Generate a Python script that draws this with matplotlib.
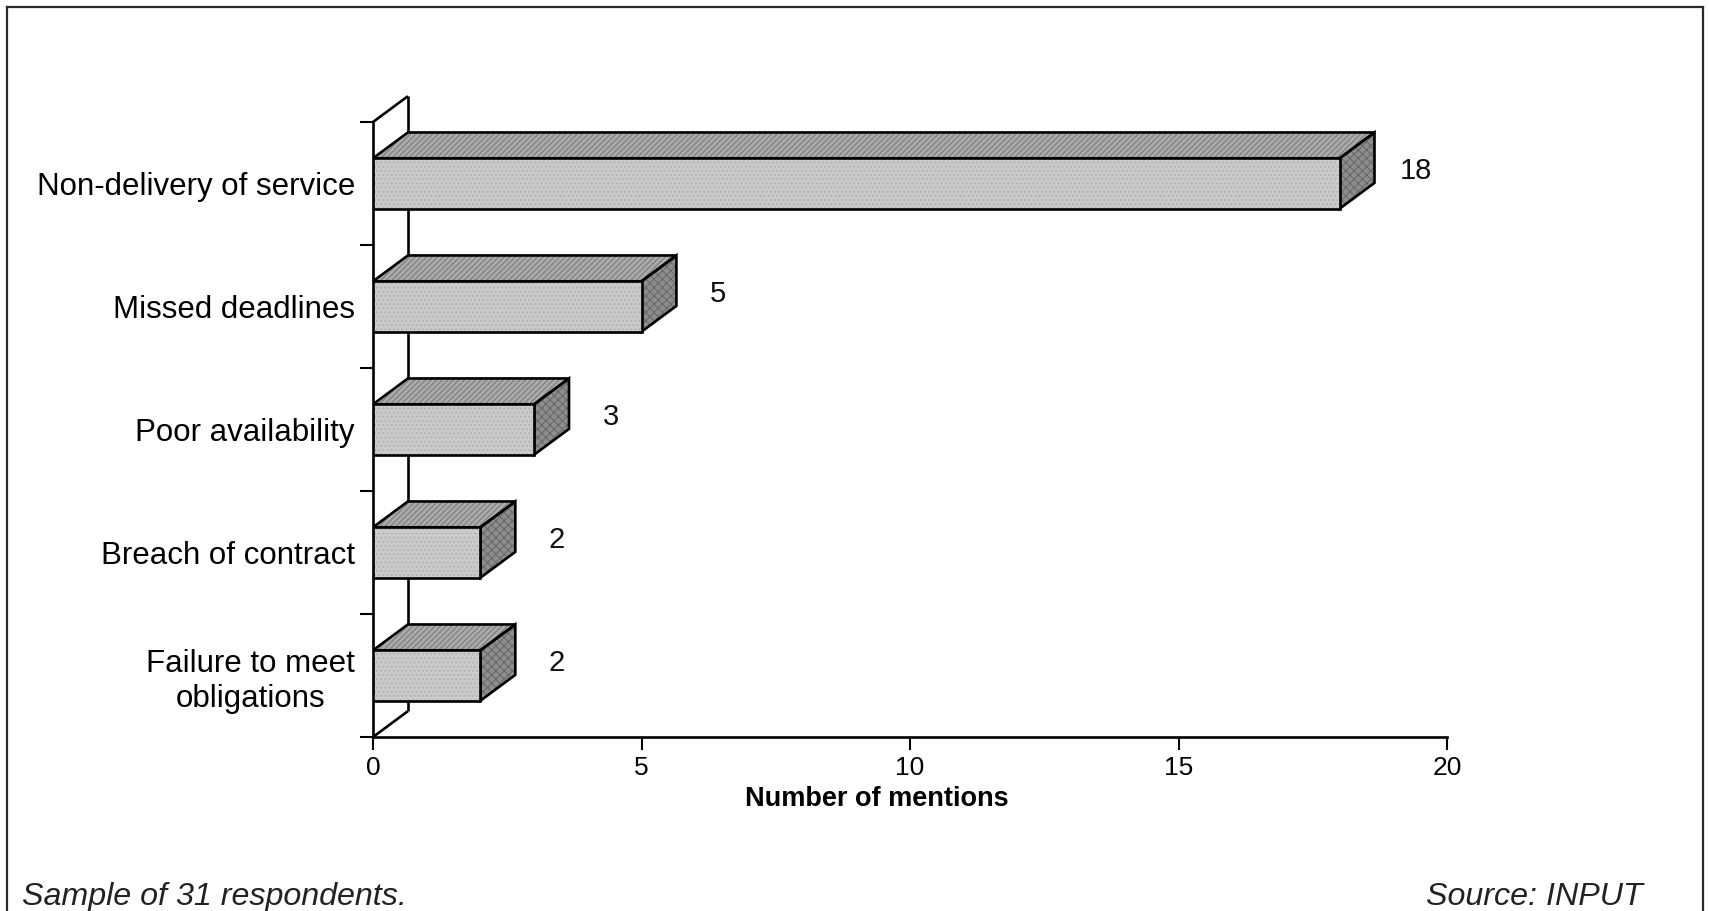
import matplotlib
matplotlib.use("Agg")
import matplotlib.pyplot as plt
from matplotlib.patches import Polygon
from matplotlib.lines import Line2D

plt.rcParams['font.family'] = ['Liberation Sans', 'DejaVu Sans']
plt.rcParams['hatch.linewidth'] = 0.8

# Data
categories = ["Non-delivery of service", "Missed deadlines", "Poor availability",
              "Breach of contract", "Failure to meet\nobligations"]
mentions = [18, 5, 3, 2, 2]
x_ticks = [0, 5, 10, 15, 20]
x_label = "Number of mentions"
note_left = "Sample of 31 respondents."
note_right = "Source: INPUT"

W, H = 1709, 911
fig = plt.figure(figsize=(W / 100, H / 100), dpi=100, facecolor="white")
ax = fig.add_axes([373 / W, (H - 737) / H, 1074 / W, 615 / H])

n = len(categories)
ax.set_xlim(0, 20)
ax.set_ylim(-0.5, n - 0.5)

# 3-D depth offsets in data units
DX = 0.65
DY = 0.21
HALF = 0.205

edge_kw = dict(edgecolor="black", linewidth=1.9, joinstyle="miter")


def face(pts, fc, hatch_color, hatch, z):
    ax.add_patch(Polygon(pts, closed=True, facecolor=fc, edgecolor="none", zorder=z))
    ax.add_patch(Polygon(pts, closed=True, facecolor="none", edgecolor=hatch_color,
                         linewidth=0, hatch=hatch, zorder=z))
    ax.add_patch(Polygon(pts, closed=True, fill=False, zorder=z + 0.1, **edge_kw))


# Back wall of the 3-D frame
wall_kw = dict(color="black", linewidth=1.9, zorder=1, clip_on=False, solid_capstyle="butt")
ax.plot([DX, DX], [-0.5 + DY, n - 0.5 + DY], **wall_kw)
ax.plot([0, DX], [n - 0.5, n - 0.5 + DY], **wall_kw)
ax.plot([0, DX], [-0.5, -0.5 + DY], **wall_kw)

for i, (cat, v) in enumerate(zip(categories, mentions)):
    yc = n - 1 - i
    y0, y1 = yc - HALF, yc + HALF
    z = 3 + i * 0.5
    right = [(v, y0), (v, y1), (v + DX, y1 + DY), (v + DX, y0 + DY)]
    top = [(0, y1), (v, y1), (v + DX, y1 + DY), (DX, y1 + DY)]
    front = [(0, y0), (v, y0), (v, y1), (0, y1)]
    face(right, "#8e8e8e", "#6a6a6a", "xxxx", z)
    face(top, "#ababab", "#7c7c7c", "//////", z)
    face(front, "#cbcbcb", "#b0b0b0", "....", z + 0.2)
    ax.annotate(str(v), xy=(v + DX, yc + DY / 2), xytext=(30, 0),
                textcoords="offset points", ha="center", va="center",
                fontsize=21, color="#111111", zorder=6)

# Axes styling
for s in ("top", "right"):
    ax.spines[s].set_visible(False)
for s in ("left", "bottom"):
    ax.spines[s].set_linewidth(1.9)
    ax.spines[s].set_zorder(2)

ax.set_xticks(x_ticks)
ax.set_xticklabels([str(t) for t in x_ticks], fontsize=19)
ax.tick_params(axis="x", direction="out", length=9.5, width=1.5, pad=4)

ax.set_yticks([k - 0.5 for k in range(n + 1)])
ax.set_yticklabels([])
ax.tick_params(axis="y", which="major", direction="out", length=9.5, width=1.5)
ax.set_yticks(list(range(n)), minor=True)
ax.set_yticklabels(categories[::-1], minor=True, fontsize=22.5, multialignment="center")
ax.tick_params(axis="y", which="minor", length=0, pad=13)
ax.set_facecolor("none")

fig.text(877 / W, 1 - 799 / H, x_label, ha="center", va="center",
         fontsize=19.5, fontweight="bold")

fig.text(22 / W, 1 - 905 / H, note_left, ha="left", va="baseline",
         fontsize=23.2, style="italic", color="#222222")
fig.text(1643 / W, 1 - 905 / H, note_right, ha="right", va="baseline",
         fontsize=23.2, style="italic", color="#222222")

# Page frame
frame_kw = dict(color="#2a2a2a", linewidth=1.6, transform=fig.transFigure)
fig.add_artist(Line2D([7 / W, 7 / W], [0, 1 - 7 / H], **frame_kw))
fig.add_artist(Line2D([7 / W, 1703 / W], [1 - 7 / H, 1 - 7 / H], **frame_kw))
fig.add_artist(Line2D([1703 / W, 1703 / W], [0, 1 - 7 / H], **frame_kw))

fig.savefig("out.png", dpi=100, facecolor="white")
